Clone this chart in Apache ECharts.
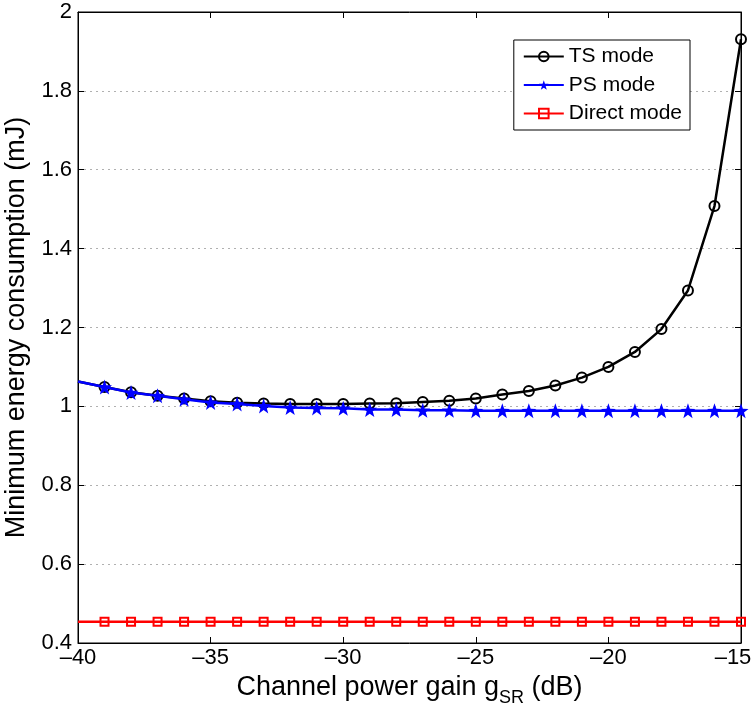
<!DOCTYPE html>
<html><head><meta charset="utf-8">
<script src="https://cdn.jsdelivr.net/npm/echarts@6/dist/echarts.min.js"></script>
<style>html,body{margin:0;padding:0;background:#fff}#c{width:752px;height:706px}</style>
</head><body><div id="c"></div>
<script>
const xValues = [-40,-39,-38,-37,-36,-35,-34,-33,-32,-31,-30,-29,-28,-27,-26,-25,-24,-23,-22,-21,-20,-19,-18,-17,-16,-15];
const tsMode = [1.063,1.049,1.036,1.027,1.020,1.013,1.009,1.007,1.006,1.006,1.006,1.007,1.008,1.011,1.014,1.020,1.030,1.039,1.053,1.073,1.100,1.138,1.196,1.294,1.508,1.931];
const psMode = [1.063,1.049,1.035,1.027,1.018,1.010,1.006,1.001,0.997,0.996,0.995,0.992,0.992,0.990,0.990,0.989,0.989,0.989,0.989,0.989,0.989,0.989,0.989,0.989,0.989,0.989];
const directMode = [0.454,0.454,0.454,0.454,0.454,0.454,0.454,0.454,0.454,0.454,0.454,0.454,0.454,0.454,0.454,0.454,0.454,0.454,0.454,0.454,0.454,0.454,0.454,0.454,0.454,0.454];
const seriesNames = ['TS mode','PS mode','Direct mode'];

function pts(arr){
  return xValues.map((x,i)=> i===0 ? {value:[x,arr[i]], symbol:'none'} : [x,arr[i]]);
}
const FONT = 'Liberation Sans';
const chart = echarts.init(document.getElementById('c'), null, {renderer:'canvas'});
const axisCommon = {
  axisLine:{show:true,lineStyle:{color:'#000',width:1}},
  axisTick:{show:true,inside:true,length:6,lineStyle:{color:'#000'}},
};
chart.setOption({
  animation:false,
  backgroundColor:'#fff',
  grid:{left:78,right:11,top:12,bottom:63,show:true,borderColor:'#000',borderWidth:1,outerBoundsMode:'none',containLabel:false},
  legend:{
    orient:'vertical', right:62, top:40, data:seriesNames,
    backgroundColor:'#fff', borderColor:'#000', borderWidth:1,
    padding:[6,8,6,9], itemGap:7.5, itemWidth:40, itemHeight:12,
    textStyle:{fontFamily:FONT,fontSize:21,color:'#000'}
  },
  xAxis:[{
    type:'value', min:-40, max:-15, interval:5, ...axisCommon,
    splitLine:{show:false},
    axisLabel:{fontFamily:FONT,fontSize:22,color:'#000',margin:4,
      formatter:v=> v===-15 ? '{r|\u201315}' : String(v).replace('-','\u2013'),
      rich:{r:{fontFamily:FONT,fontSize:22,color:'#000',padding:[0,16,0,0]}}},
    name:'{a|Channel power gain g}{s|SR}{a| (dB)}', nameLocation:'middle', nameGap:22,
    nameTextStyle:{rich:{
      a:{fontFamily:FONT,fontSize:27,color:'#000'},
      s:{fontFamily:FONT,fontSize:18,color:'#000',padding:[22,0,0,0]}
    }}
  },{
    type:'value', position:'top', min:-40, max:-15, interval:5, ...axisCommon,
    axisLabel:{show:false}, splitLine:{show:false}
  }],
  yAxis:[{
    type:'value', min:0.4, max:2, interval:0.2, ...axisCommon,
    splitLine:{show:true,lineStyle:{color:'#b0b0b0',type:[2,4],width:1}},
    axisLabel:{fontFamily:FONT,fontSize:22,color:'#000',margin:6,
      formatter:v=>String(+v.toFixed(1))},
    name:'Minimum energy consumption (mJ)', nameLocation:'middle', nameGap:44,
    nameTextStyle:{fontFamily:FONT,fontSize:27,color:'#000'}
  },{
    type:'value', position:'right', min:0.4, max:2, interval:0.2, ...axisCommon,
    axisLabel:{show:false}, splitLine:{show:false}
  }],
  series:[
    {name:seriesNames[0],type:'line',data:pts(tsMode),symbol:'circle',symbolSize:10,
     lineStyle:{color:'#000',width:2.5},
     itemStyle:{color:'rgba(255,255,255,0)',borderColor:'#000',borderWidth:2},z:3},
    {name:seriesNames[1],type:'line',data:pts(psMode),symbol:'path://M0,-10 L2.35,-3.24 L9.51,-3.09 L3.8,1.24 L5.88,8.09 L0,4 L-5.88,8.09 L-3.8,1.24 L-9.51,-3.09 L-2.35,-3.24 Z',symbolSize:15,
     lineStyle:{color:'#0000ff',width:2.5},
     itemStyle:{color:'#0000ff',borderColor:'#0000ff',borderWidth:0},z:4},
    {name:seriesNames[2],type:'line',data:pts(directMode),symbol:'rect',symbolSize:8,
     lineStyle:{color:'#ff0000',width:2.5},
     itemStyle:{color:'rgba(255,255,255,0)',borderColor:'#ff0000',borderWidth:2},z:3}
  ]
});
</script></body></html>
